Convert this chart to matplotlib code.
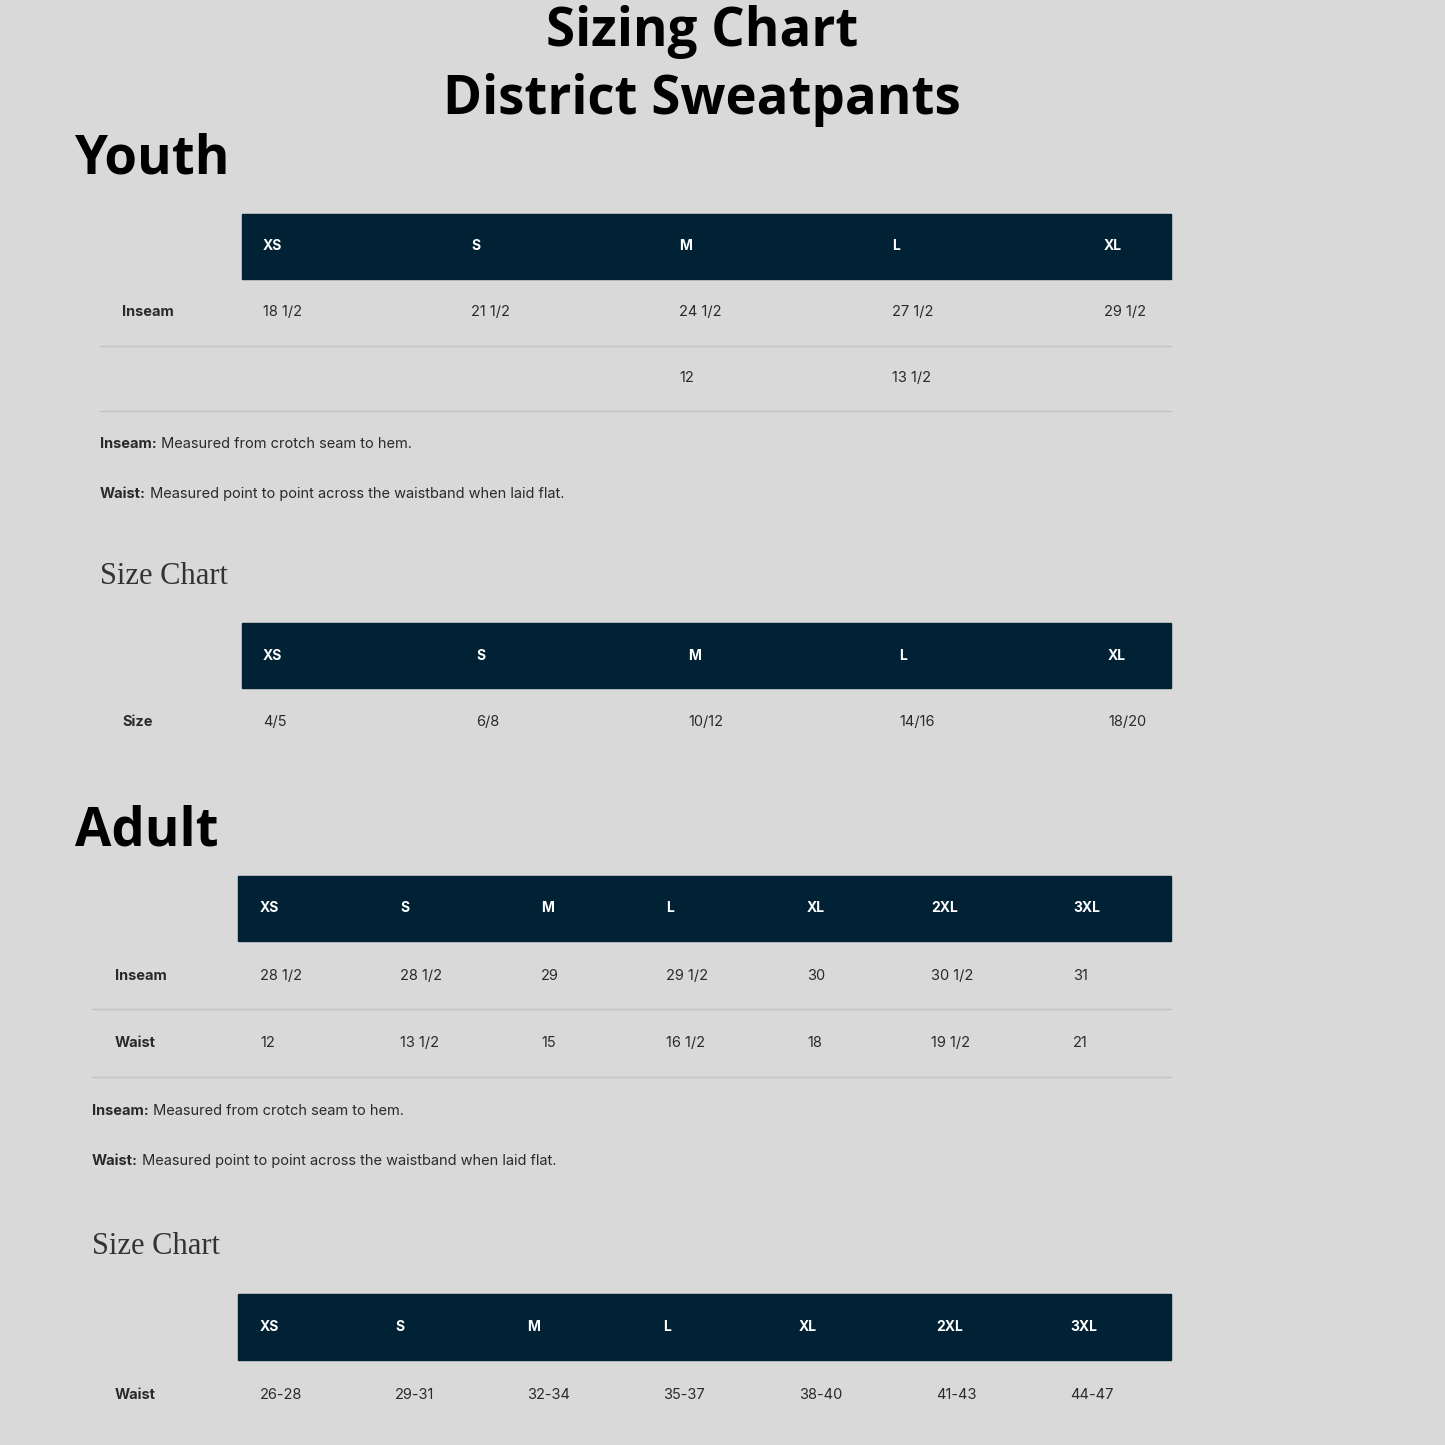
import matplotlib
matplotlib.use("Agg")
import matplotlib.pyplot as plt
from matplotlib.patches import Rectangle

title_lines = ["Sizing Chart", "District Sweatpants"]
youth_sizes = ["XS", "S", "M", "L", "XL"]
youth_inseam = ["18 1/2", "21 1/2", "24 1/2", "27 1/2", "29 1/2"]
youth_waist = ["", "", "12", "13 1/2", ""]
youth_size_vals = ["4/5", "6/8", "10/12", "14/16", "18/20"]
adult_sizes = ["XS", "S", "M", "L", "XL", "2XL", "3XL"]
adult_inseam = ["28 1/2", "28 1/2", "29", "29 1/2", "30", "30 1/2", "31"]
adult_waist = ["12", "13 1/2", "15", "16 1/2", "18", "19 1/2", "21"]
adult_size_vals = ["26-28", "29-31", "32-34", "35-37", "38-40", "41-43", "44-47"]
note_inseam = ("Inseam:", " Measured from crotch seam to hem.")
note_waist = ("Waist:", " Measured point to point across the waistband when laid flat.")

BG = "#d9d9d9"; NAVY = "#012235"; TXT = "#2a2a2a"
fig = plt.figure(figsize=(14.45, 14.45), dpi=100, facecolor=BG)
ax = fig.add_axes([0, 0, 1, 1]); ax.set_xlim(0, 1445); ax.set_ylim(1445, 0); ax.axis("off")
ax.set_facecolor(BG)
TF = "Open Sans"; BF = "Inter"

for y, t in zip([32, 100], title_lines):
    ax.text(702, y, t, ha="center", va="center", fontsize=38, fontweight="bold", family=TF, color="black")

def header(x0, y0, y1, xs, labels):
    ax.add_patch(Rectangle((x0, y0), 1171 - x0, y1 - y0, color=NAVY))
    for x, l in zip(xs, labels):
        ax.text(x, (y0 + y1) / 2, l, ha="left", va="center", fontsize=10, fontweight="bold", family=BF, color="white")

def row(y, labx, label, xs, vals):
    ax.text(labx, y, label, ha="left", va="center", fontsize=10.5, fontweight="bold", family=BF, color=TXT)
    for x, v in zip(xs, vals):
        ax.text(x, y, v, ha="left", va="center", fontsize=10.5, family=BF, color=TXT)

def hline(y, x0):
    ax.plot([x0, 1171], [y, y], color="#c4c4c4", lw=1)

def note(x, y, n):
    t = ax.text(x, y, n[0], ha="left", va="center", fontsize=10.5, fontweight="bold", family=BF, color=TXT)
    fig.canvas.draw()
    bb = t.get_window_extent()
    w = bb.width
    ax.text(x + w, y, n[1], ha="left", va="center", fontsize=10.5, family=BF, color=TXT)

def section(x, y, t):
    ax.text(x, y, t, ha="left", va="center", fontsize=38, fontweight="bold", family=TF, color="black")

def sizechart(x, y):
    ax.text(x, y, "Size Chart", ha="left", va="center", fontsize=22, family="Liberation Serif", color="#333333")

# Youth
section(75, 160, "Youth")
yx = [263, 471, 679, 892, 1104]
header(242, 214, 279, yx, youth_sizes)
row(312, 122, "Inseam", yx, youth_inseam)
hline(346, 100)
row(378, 122, "", yx, youth_waist)
hline(411, 100)
note(100, 444, note_inseam)
note(100, 494, note_waist)
sizechart(100, 577)
ysx = [263, 476, 688, 899, 1108]
header(242, 623, 688, ysx, youth_sizes)
row(722, 122, "Size", ysx, youth_size_vals)

# Adult
section(75, 832, "Adult")
ax_ = [260, 400, 541, 666, 807, 931, 1073]
header(238, 876, 941, ax_, adult_sizes)
row(976, 115, "Inseam", ax_, adult_inseam)
hline(1009, 92)
row(1043, 115, "Waist", ax_, adult_waist)
hline(1077, 92)
note(92, 1111, note_inseam)
note(92, 1161, note_waist)
sizechart(92, 1247)
asx = [260, 395, 527, 663, 799, 936, 1070]
header(238, 1294, 1360, asx, adult_sizes)
row(1395, 115, "Waist", asx, adult_size_vals)

fig.savefig("out.png", dpi=100, facecolor=BG)
